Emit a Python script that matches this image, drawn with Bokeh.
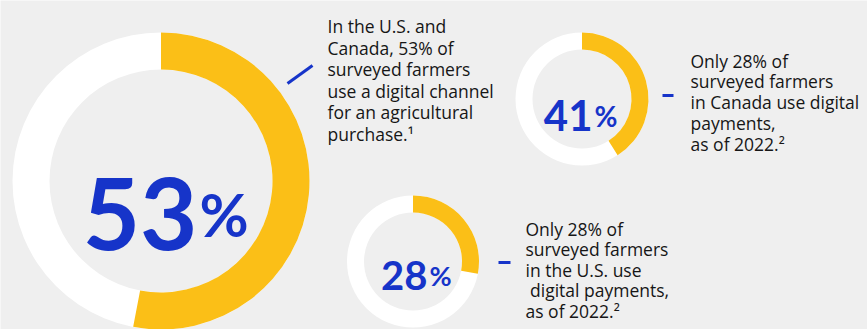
import math
from bokeh.plotting import figure
from bokeh.models import Range1d
from bokeh.core.properties import value
from bokeh.embed import file_html
from bokeh.resources import INLINE

# ---- data ----
shares = [53, 41, 28]
share_labels = ["53", "41", "28"]
desc_big = ["In the U.S. and", "Canada, 53% of", "surveyed farmers",
            "use a digital channel", "for an agricultural", "purchase.\u00b9"]
desc_ca = ["Only 28% of", "surveyed farmers", "in Canada use digital",
           "payments,", "as of 2022.\u00b2"]
desc_us = ["Only 28% of", "surveyed farmers", "in the U.S. use",
           "\u00a0digital payments,", "as of 2022.\u00b2"]

W, H = 867, 329
BG = "#efefef"
YEL = "#fbbf17"
BLUE = "#1634c9"
TXT = "#161616"
NUM_FONT = "Lato"
FONT = "Open Sans"

def Y(y):
    return H - y

p = figure(width=W, height=H, x_range=Range1d(0, W), y_range=Range1d(0, H),
           output_backend="svg", toolbar_location=None, min_border=0)
p.axis.visible = False
p.grid.visible = False
p.outline_line_color = None
p.background_fill_color = BG
p.border_fill_color = BG

# donut layout: (cx, cy, outer, inner)
donuts = [(160.5, 180.5, 148.5, 111.5), (581.5, 98.5, 66.5, 49.5), (412.5, 261.0, 66.0, 49.0)]

for (cx, cy, ro, ri), v in zip(donuts, shares):
    frac = v / 100.0
    p.annulus(x=[cx], y=[Y(cy)], inner_radius=ri, outer_radius=ro,
              inner_radius_units="screen", outer_radius_units="screen",
              fill_color="white", line_color=None)
    p.annular_wedge(x=[cx], y=[Y(cy)], inner_radius=ri, outer_radius=ro,
                    inner_radius_units="screen", outer_radius_units="screen",
                    start_angle=math.pi / 2 - 2 * math.pi * frac, end_angle=math.pi / 2,
                    fill_color=YEL, line_color=None)

# big numbers: (right x of digits, baseline, digit size, pct size)
num_layout = [(197, 213, 99, 60), (592, 115, 42, 28), (427, 275, 40, 27)]
for lab, (xr, yb, s1, s2) in zip(share_labels, num_layout):
    p.text(x=[xr], y=[Y(yb)], text=[lab], text_font=value(NUM_FONT), text_font_style="bold",
           text_font_size=f"{s1}px", text_color=BLUE, text_align="right",
           text_baseline="alphabetic")
    p.text(x=[xr + 2], y=[Y(yb)], text=["%"], text_font=value(NUM_FONT), text_font_style="bold",
           text_font_size=f"{s2}px", text_color=BLUE, text_align="left",
           text_baseline="alphabetic")

# connector ticks
p.segment(x0=[287, 662, 498], y0=[Y(83), Y(95), Y(262)],
          x1=[312, 673, 510], y1=[Y(65), Y(95), Y(262)],
          line_color=BLUE, line_width=3)

# descriptions: (x, first baseline, line height, size)
desc_layout = [(desc_big, 327, 25.5, 21.6, 17.5), (desc_ca, 690, 60, 20.8, 17.5),
               (desc_us, 525, 228.5, 20.4, 17.5)]
for lines, x0, y0, lh, fs in desc_layout:
    xs = [x0] * len(lines)
    ys = [Y(y0 + i * lh) for i in range(len(lines))]
    p.text(x=xs, y=ys, text=lines, text_font=value(FONT), text_font_size=f"{fs}px",
           text_color=TXT, text_align="left", text_baseline="alphabetic")

open("out.html", "w").write(file_html(p, INLINE))
